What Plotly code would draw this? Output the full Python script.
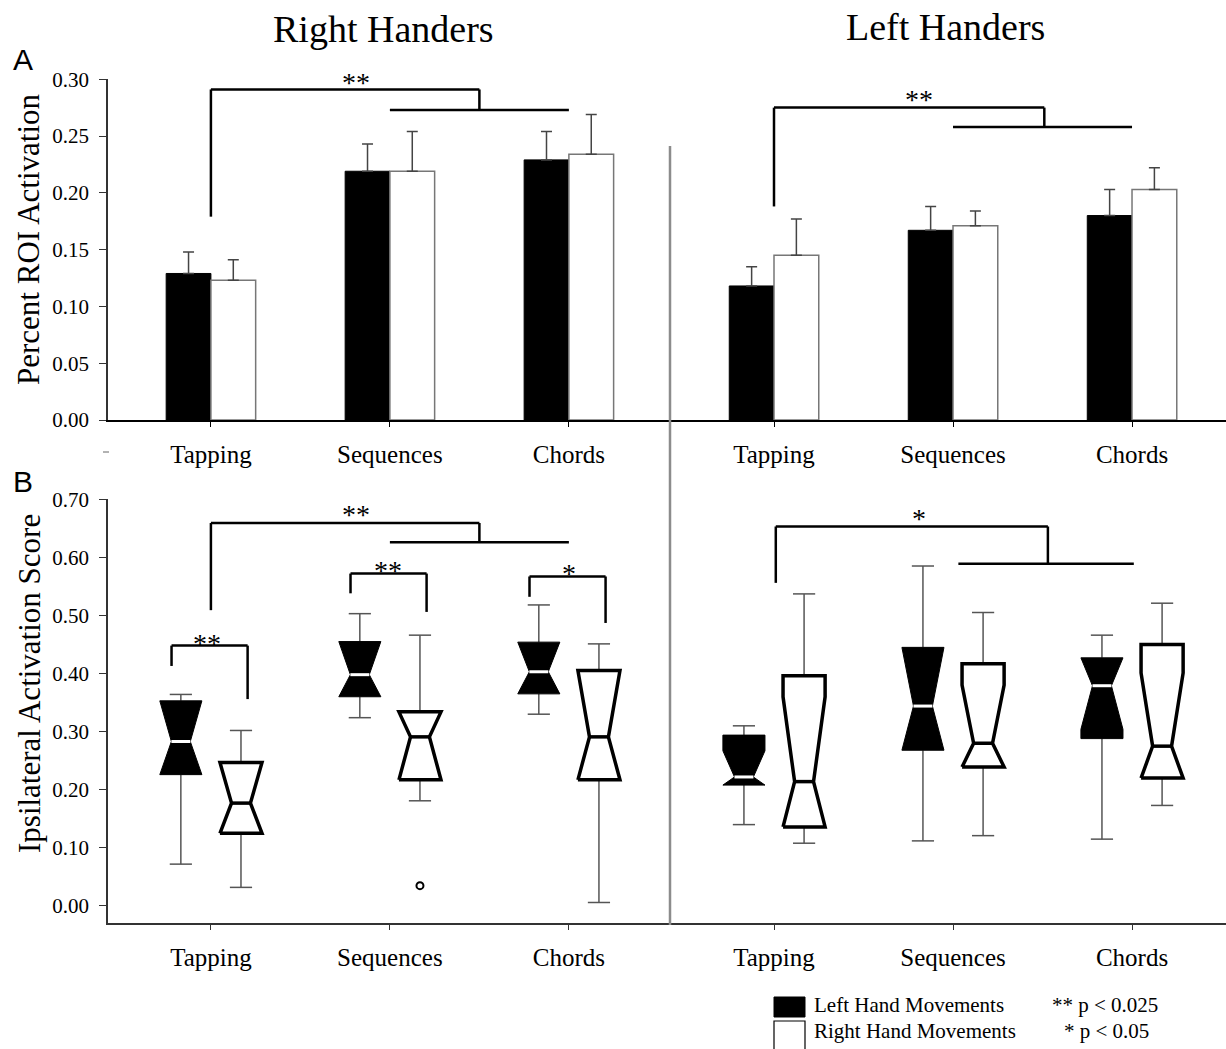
import plotly.graph_objects as go

# ---------------- data ----------------
categories = ["Tapping", "Sequences", "Chords"]
group_titles = ["Right Handers", "Left Handers"]
series_names = ["Left Hand Movements", "Right Hand Movements"]

# Panel A: percent ROI activation (mean, + error)
rh_left_mean = [0.129, 0.219, 0.229]
rh_left_err = [0.019, 0.024, 0.025]
rh_right_mean = [0.123, 0.219, 0.234]
rh_right_err = [0.018, 0.035, 0.035]
lh_left_mean = [0.118, 0.167, 0.180]
lh_left_err = [0.017, 0.021, 0.023]
lh_right_mean = [0.145, 0.171, 0.203]
lh_right_err = [0.032, 0.013, 0.019]

# Panel B: ipsilateral activation score box statistics
rh_L_low = [0.072, 0.324, 0.330]
rh_L_q1 = [0.226, 0.360, 0.365]
rh_L_med = [0.283, 0.398, 0.403]
rh_L_q3 = [0.353, 0.455, 0.454]
rh_L_high = [0.364, 0.503, 0.518]
rh_L_notch = [0.070, 0.060, 0.055]

rh_R_low = [0.032, 0.181, 0.006]
rh_R_q1 = [0.125, 0.217, 0.217]
rh_R_med = [0.177, 0.291, 0.291]
rh_R_q3 = [0.247, 0.334, 0.405]
rh_R_high = [0.302, 0.466, 0.451]
rh_R_notch = [0.070, 0.075, 0.115]
rh_R_outliers = [[], [0.035], []]

lh_L_low = [0.140, 0.112, 0.115]
lh_L_q1 = [0.208, 0.268, 0.288]
lh_L_med = [0.222, 0.344, 0.379]
lh_L_q3 = [0.294, 0.445, 0.427]
lh_L_high = [0.310, 0.585, 0.466]
lh_L_notch = [0.045, 0.101, 0.075]

lh_R_low = [0.108, 0.121, 0.173]
lh_R_q1 = [0.136, 0.239, 0.220]
lh_R_med = [0.214, 0.280, 0.275]
lh_R_q3 = [0.396, 0.417, 0.450]
lh_R_high = [0.537, 0.505, 0.521]
lh_R_notch = [0.146, 0.100, 0.126]
lh_R_outliers = [[], [], []]

a_ticks = [0.00, 0.05, 0.10, 0.15, 0.20, 0.25, 0.30]
b_ticks = [0.00, 0.10, 0.20, 0.30, 0.40, 0.50, 0.60, 0.70]

# ---------------- layout geometry ----------------
W, H = 1226, 1049
ML, MR, MT, MB = 108, 0, 79, 126
PW = W - ML - MR
PH = H - MT - MB


def px(x):
    return (x - ML) / PW


def py(y):
    return (H - MB - y) / PH


X_SPLIT = px(670)
TOP_DOM = [py(420), 1.0]
BOT_DOM = [0.0, py(499)]
SERIF = "Liberation Serif, Times New Roman, serif"
SANS = "Liberation Sans, Arial, sans-serif"

BOX_OFF = 0.168   # box centre offset from category tick (category units)
BW = 0.1175       # half box width
NW = BW * 0.45    # half width at the notch
CW = 0.062        # half whisker-cap width

fig = go.Figure()

# ---------------- Panel A: bars ----------------
for xa, lm, le, rm, re in [("x", rh_left_mean, rh_left_err, rh_right_mean, rh_right_err),
                           ("x2", lh_left_mean, lh_left_err, lh_right_mean, lh_right_err)]:
    fig.add_trace(go.Bar(
        x=list(range(len(categories))), y=lm, xaxis=xa, yaxis="y",
        name=series_names[0], offsetgroup="L", showlegend=False,
        marker=dict(color="black", line=dict(color="black", width=1)),
        error_y=dict(type="data", symmetric=False, array=le, arrayminus=[0] * len(le),
                     color="#444", thickness=1.5, width=5.5)))
    fig.add_trace(go.Bar(
        x=list(range(len(categories))), y=rm, xaxis=xa, yaxis="y",
        name=series_names[1], offsetgroup="R", showlegend=False,
        marker=dict(color="white", line=dict(color="#777", width=1.5)),
        error_y=dict(type="data", symmetric=False, array=re, arrayminus=[0] * len(re),
                     color="#444", thickness=1.5, width=5.5)))


# ---------------- Panel B: notched boxes ----------------
def box_geometry(offset, low, q1, med, q3, high, notch):
    poly_x, poly_y, med_x, med_y, wh_x, wh_y = [], [], [], [], [], []
    for i in range(len(categories)):
        c = i + offset
        hi = min(med[i] + notch[i], q3[i])
        lo = max(med[i] - notch[i], q1[i])
        poly_x += [c - BW, c - BW, c - NW, c - BW, c - BW, c + BW, c + BW, c + NW, c + BW, c + BW, c - BW, None]
        poly_y += [q1[i], lo, med[i], hi, q3[i], q3[i], hi, med[i], lo, q1[i], q1[i], None]
        med_x += [c - NW, c + NW, None]
        med_y += [med[i], med[i], None]
        wh_x += [c, c, None, c, c, None, c - CW, c + CW, None, c - CW, c + CW, None]
        wh_y += [q3[i], high[i], None, low[i], q1[i], None, high[i], high[i], None, low[i], low[i], None]
    return poly_x, poly_y, med_x, med_y, wh_x, wh_y


panels_b = [
    ("x3", (rh_L_low, rh_L_q1, rh_L_med, rh_L_q3, rh_L_high, rh_L_notch),
     (rh_R_low, rh_R_q1, rh_R_med, rh_R_q3, rh_R_high, rh_R_notch), rh_R_outliers),
    ("x4", (lh_L_low, lh_L_q1, lh_L_med, lh_L_q3, lh_L_high, lh_L_notch),
     (lh_R_low, lh_R_q1, lh_R_med, lh_R_q3, lh_R_high, lh_R_notch), lh_R_outliers),
]

for xa, left_stats, right_stats, right_out in panels_b:
    for stats, off, filled, name in [(left_stats, -BOX_OFF, True, series_names[0]),
                                     (right_stats, BOX_OFF, False, series_names[1])]:
        pxs, pys, mxs, mys, wxs, wys = box_geometry(off, *stats)
        fig.add_trace(go.Scatter(x=wxs, y=wys, xaxis=xa, yaxis="y3", mode="lines",
                                 line=dict(color="#555", width=1.5), hoverinfo="skip",
                                 showlegend=False, name=name))
        fig.add_trace(go.Scatter(x=pxs, y=pys, xaxis=xa, yaxis="y3", mode="lines",
                                 fill="toself",
                                 fillcolor="black" if filled else "white",
                                 line=dict(color="black", width=1 if filled else 3.5),
                                 showlegend=False, name=name))
        fig.add_trace(go.Scatter(x=mxs, y=mys, xaxis=xa, yaxis="y3", mode="lines",
                                 line=dict(color="white" if filled else "black",
                                           width=3 if filled else 3.5),
                                 hoverinfo="skip", showlegend=False, name=name))
    ox, oy = [], []
    for i, vals in enumerate(right_out):
        for v in vals:
            ox.append(i + BOX_OFF)
            oy.append(v)
    if ox:
        fig.add_trace(go.Scatter(x=ox, y=oy, xaxis=xa, yaxis="y3", mode="markers",
                                 marker=dict(symbol="circle", size=7, color="white",
                                             line=dict(color="black", width=2)),
                                 showlegend=False, name="outlier"))

# ---------------- axes ----------------
common = dict(showgrid=False, zeroline=False, showline=True, linewidth=1.5,
              ticks="outside", tickwidth=1.2)
xtick_font = dict(family=SERIF, size=25, color="black")
ytick_font = dict(family=SERIF, size=21, color="black")
tickpos = list(range(len(categories)))
XSTAND = 6

fig.update_layout(
    xaxis=dict(domain=[0, X_SPLIT], anchor="y", range=[-0.575, 2.565], tickvals=tickpos,
               ticktext=categories, ticklen=5, tickfont=xtick_font, ticklabelstandoff=XSTAND,
               linecolor="black", tickcolor="black", **common),
    xaxis2=dict(domain=[X_SPLIT, 1], anchor="y", range=[-0.581, 2.525], tickvals=tickpos,
                ticktext=categories, ticklen=5, tickfont=xtick_font, ticklabelstandoff=XSTAND,
                linecolor="black", tickcolor="black", **common),
    yaxis=dict(domain=TOP_DOM, anchor="x", range=[0, 0.3002], tickvals=a_ticks,
               tickformat=".2f", ticklen=7, tickfont=ytick_font, ticklabelstandoff=6,
               linecolor="#333", tickcolor="#333", **common),
    xaxis3=dict(domain=[0, X_SPLIT], anchor="y3", range=[-0.575, 2.565], tickvals=tickpos,
                ticktext=categories, ticklen=5, tickfont=xtick_font, ticklabelstandoff=XSTAND,
                linecolor="#333", tickcolor="#333", **common),
    xaxis4=dict(domain=[X_SPLIT, 1], anchor="y3", range=[-0.581, 2.525], tickvals=tickpos,
                ticktext=categories, ticklen=5, tickfont=xtick_font, ticklabelstandoff=XSTAND,
                linecolor="#333", tickcolor="#333", **common),
    yaxis3=dict(domain=BOT_DOM, anchor="x3", range=[-0.0293, 0.7003], tickvals=b_ticks,
                tickformat=".2f", ticklen=7, tickfont=ytick_font, ticklabelstandoff=6,
                linecolor="#333", tickcolor="#333", **common),
    barmode="group", bargap=0.5, bargroupgap=0,
    width=W, height=H, margin=dict(l=ML, r=MR, t=MT, b=MB, pad=0),
    plot_bgcolor="white", paper_bgcolor="white", showlegend=False,
)

# ---------------- shapes: divider, brackets, legend ----------------
shapes = []
shapes.append(dict(type="line", xref="paper", yref="paper", x0=X_SPLIT, x1=X_SPLIT,
                   y0=py(925), y1=py(146), line=dict(color="#8c8c8c", width=2.5)))
shapes.append(dict(type="line", xref="paper", yref="paper", x0=px(103), x1=px(109),
                   y0=py(452), y1=py(452), line=dict(color="#666", width=1)))


def bracket_group(xa, ya, leg_bottom, top, drop_bottom, drop_x=1.5, x_left=0.0, lo_x0=1.0, lo_x1=2.0):
    out = []
    lw = dict(color="black", width=2.5)
    out.append(dict(type="line", xref=xa, yref=ya, x0=x_left, x1=x_left, y0=leg_bottom, y1=top, line=lw))
    out.append(dict(type="line", xref=xa, yref=ya, x0=x_left, x1=drop_x, y0=top, y1=top, line=lw))
    out.append(dict(type="line", xref=xa, yref=ya, x0=drop_x, x1=drop_x, y0=top, y1=drop_bottom, line=lw))
    out.append(dict(type="line", xref=xa, yref=ya, x0=lo_x0, x1=lo_x1, y0=drop_bottom, y1=drop_bottom, line=lw))
    return out


def pair_bracket(xa, ya, cat, left_bottom, top, right_bottom):
    lw = dict(color="black", width=2.5)
    l, r = cat - 0.22, cat + 0.205
    return [
        dict(type="line", xref=xa, yref=ya, x0=l, x1=l, y0=left_bottom, y1=top, line=lw),
        dict(type="line", xref=xa, yref=ya, x0=l, x1=r, y0=top, y1=top, line=lw),
        dict(type="line", xref=xa, yref=ya, x0=r, x1=r, y0=top, y1=right_bottom, line=lw),
    ]


shapes += bracket_group("x", "y", 0.179, 0.291, 0.273)
shapes += bracket_group("x2", "y", 0.188, 0.275, 0.258, drop_x=1.51)
shapes += bracket_group("x3", "y3", 0.509, 0.659, 0.626)
shapes += bracket_group("x4", "y3", 0.556, 0.653, 0.589, drop_x=1.53, x_left=0.01, lo_x0=1.03, lo_x1=2.01)
shapes += pair_bracket("x3", "y3", 0, 0.413, 0.448, 0.356)
shapes += pair_bracket("x3", "y3", 1, 0.538, 0.572, 0.506)
shapes += pair_bracket("x3", "y3", 2, 0.532, 0.567, 0.487)

# legend swatches
shapes.append(dict(type="rect", xref="paper", yref="paper", x0=px(774), x1=px(805),
                   y0=py(1017), y1=py(997), fillcolor="black", line=dict(color="black", width=1)))
shapes.append(dict(type="rect", xref="paper", yref="paper", x0=px(774), x1=px(805),
                   y0=py(1055), y1=py(1021), fillcolor="white", line=dict(color="black", width=1.2)))
fig.update_layout(shapes=shapes)

# ---------------- annotations ----------------
ann = []


def text_px(txt, x, y, size, family=SERIF, xanchor="center", angle=0):
    ann.append(dict(text=txt, xref="paper", yref="paper", x=px(x), y=py(y), showarrow=False,
                    xanchor=xanchor, yanchor="middle", textangle=angle,
                    font=dict(family=family, size=size, color="black")))


def star(txt, xa, ya, x, y):
    ann.append(dict(text=txt, xref=xa, yref=ya, x=x, y=y, showarrow=False,
                    xanchor="center", yanchor="middle",
                    font=dict(family=SERIF, size=28, color="black")))


text_px(group_titles[0], 383, 29, 38)
text_px(group_titles[1], 945, 27, 38)
text_px("A", 23, 60, 30, family=SANS)
text_px("B", 23, 481, 30, family=SANS)
text_px("Percent ROI Activation", 28, 240, 31, angle=-90)
text_px("Ipsilateral Activation Score", 29, 684, 31, angle=-90)

star("**", "x", "y", 0.81, 0.2975)
star("**", "x2", "y", 0.81, 0.2821)
star("**", "x3", "y3", 0.81, 0.6735)
star("**", "x3", "y3", -0.02, 0.4525)
star("**", "x3", "y3", 0.99, 0.5765)
star("*", "x3", "y3", 2.0, 0.5725)
star("*", "x4", "y3", 0.81, 0.6675)

text_px(series_names[0], 812, 1005, 21, xanchor="left")
text_px(series_names[1], 812, 1031, 21, xanchor="left")
text_px("** p &lt; 0.025", 1050, 1005, 21, xanchor="left")
text_px("* p &lt; 0.05", 1062, 1031, 21, xanchor="left")

fig.update_layout(annotations=ann)

fig.write_html("out.html", config={"displayModeBar": False},
               post_script="document.body.style.margin='0';")
